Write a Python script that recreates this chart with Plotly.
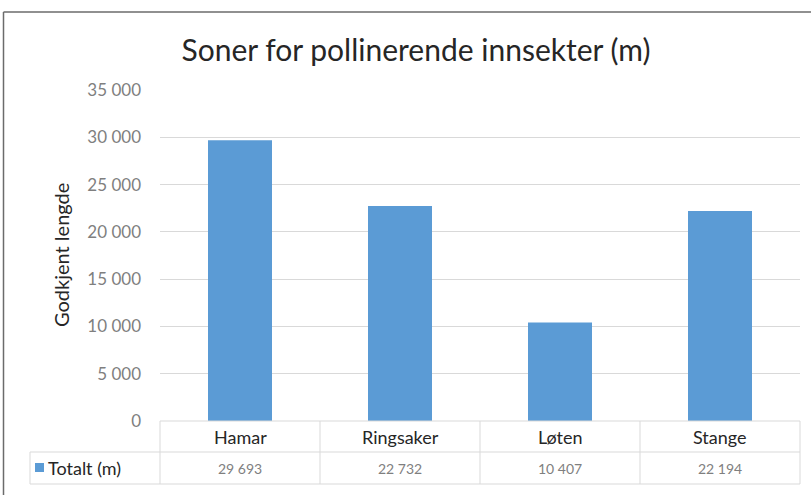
import plotly.graph_objects as go

categories = ["Hamar", "Ringsaker", "Løten", "Stange"]
values = [29693, 22732, 10407, 22194]
series_name = "Totalt (m)"
title_text = "Soner for pollinerende innsekter (m)"
y_title = "Godkjent lengde"

W, H = 811, 495
L, R, T, B = 160, 800, 90, 421  # plot area in pixels

def px(x):
    return (x - L) / (R - L)

def py(y):
    return (B - y) / (B - T)

FONT = "Lato"
GRID = "#d9d9d9"
BLUE = "#5b9bd5"

def fmt(v):
    return f"{v:,}".replace(",", " ")

fig = go.Figure(go.Bar(x=categories, y=values, marker_color=BLUE, marker_line_width=0,
                       name=series_name, showlegend=False))

shapes = []
line = dict(color=GRID, width=1)
# table horizontal lines
shapes.append(dict(type="line", xref="paper", yref="paper", x0=0, x1=1, y0=py(421), y1=py(421), line=line))
shapes.append(dict(type="line", xref="paper", yref="paper", x0=px(30), x1=1, y0=py(452), y1=py(452), line=line))
shapes.append(dict(type="line", xref="paper", yref="paper", x0=px(30), x1=1, y0=py(484), y1=py(484), line=line))
# table vertical lines
for i in range(len(categories) + 1):
    shapes.append(dict(type="line", xref="paper", yref="paper", x0=i / len(categories), x1=i / len(categories),
                       y0=py(421), y1=py(484), line=line))
shapes.append(dict(type="line", xref="paper", yref="paper", x0=px(30), x1=px(30), y0=py(452), y1=py(484), line=line))
# legend key square
shapes.append(dict(type="rect", xref="paper", yref="paper", x0=px(35), x1=px(44), y0=py(463), y1=py(472),
                   fillcolor=BLUE, line=dict(width=0)))
# outer frame (left and top)
frame = dict(color="#6b6b6b", width=1.5)
shapes.append(dict(type="line", xref="paper", yref="paper", x0=px(3.5), x1=px(811), y0=py(12), y1=py(12), line=frame))
shapes.append(dict(type="line", xref="paper", yref="paper", x0=px(3.5), x1=px(3.5), y0=py(12), y1=py(495), line=frame))

annotations = []
for c, v in zip(categories, values):
    annotations.append(dict(x=c, xref="x", yref="paper", y=py(437), text=c, showarrow=False,
                            font=dict(family=FONT, size=18, color="#262626"), yanchor="middle"))
    annotations.append(dict(x=c, xref="x", yref="paper", y=py(468), text=fmt(v), showarrow=False,
                            font=dict(family=FONT, size=14, color="#7f7f7f"), yanchor="middle"))
annotations.append(dict(x=px(46), xref="paper", yref="paper", y=py(468), text=series_name, showarrow=False,
                        xanchor="left", yanchor="middle", font=dict(family=FONT, size=18, color="#262626")))
annotations.append(dict(x=px(61), xref="paper", yref="paper", y=py(255), text=y_title, showarrow=False,
                        textangle=-90, xanchor="center", yanchor="middle",
                        font=dict(family=FONT, size=20, color="#262626")))

fig.update_layout(
    width=W, height=H,
    margin=dict(l=L, r=W - R, t=T, b=H - B, pad=0),
    paper_bgcolor="white", plot_bgcolor="white",
    separators=", ",
    bargap=0.6,
    title=dict(text=title_text, x=416 / W, xref="container", xanchor="center",
               y=1 - 50 / H, yref="container", yanchor="middle",
               font=dict(family=FONT, size=30, color="#262626")),
    xaxis=dict(showticklabels=False, showgrid=False, zeroline=False, showline=False, ticks=""),
    yaxis=dict(range=[0, 35000], dtick=5000, tickformat=",d", showgrid=True, gridcolor=GRID, gridwidth=1,
               zeroline=False, showline=False, ticks="", ticklabelstandoff=18,
               tickfont=dict(family=FONT, size=17, color="#7f7f7f")),
    shapes=shapes,
    annotations=annotations,
)

fig.write_html("out.html", config={"displayModeBar": False},
               post_script="document.body.style.margin='0';document.body.style.overflow='hidden';")
